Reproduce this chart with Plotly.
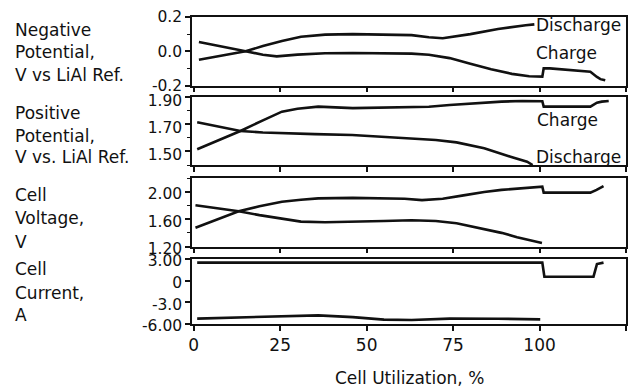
import plotly.graph_objects as go

# ---------------- data ----------------
neg_dis_u = [1.5, 8, 15, 20, 25.5, 31, 38, 46, 55, 63, 68, 72, 80, 88, 96, 98.5]
neg_dis_v = [-0.05, -0.025, 0.0, 0.03, 0.06, 0.085, 0.097, 0.10, 0.098, 0.094, 0.082, 0.076, 0.10, 0.13, 0.152, 0.157]

neg_chg_u = [1.5, 8, 15, 20, 24, 30, 38, 46, 55, 63, 68, 74, 80, 86, 92, 97, 100.8, 101.2, 103, 110, 114.7, 116.6, 117.6, 119]
neg_chg_v = [0.054, 0.03, 0.0, -0.02, -0.03, -0.02, -0.012, -0.01, -0.01, -0.014, -0.02, -0.04, -0.073, -0.105, -0.132, -0.146, -0.148, -0.10, -0.10, -0.11, -0.12, -0.15, -0.163, -0.17]

pos_chg_u = [1, 7, 13.5, 20, 25.5, 30, 36, 46, 55, 63, 68, 74, 82, 89, 95, 99.5, 100.8, 101.2, 108, 114.7, 116.6, 118, 120]
pos_chg_v = [1.516, 1.58, 1.651, 1.73, 1.794, 1.815, 1.831, 1.82, 1.822, 1.826, 1.83, 1.843, 1.858, 1.868, 1.873, 1.873, 1.871, 1.831, 1.831, 1.831, 1.86, 1.868, 1.873]

pos_dis_u = [1, 7, 13.5, 20, 25.5, 35, 45.8, 55, 63, 70, 76, 84, 91.6, 96.4, 98]
pos_dis_v = [1.715, 1.683, 1.651, 1.64, 1.634, 1.628, 1.622, 1.61, 1.597, 1.585, 1.567, 1.523, 1.461, 1.424, 1.40]

vol_chg_u = [0.5, 7, 13, 19, 25.5, 31, 36, 46, 55, 61, 66, 72, 78, 84, 89, 94, 98, 100.8, 101.2, 108, 114.7, 116.5, 118.5]
vol_chg_v = [1.476, 1.6, 1.717, 1.79, 1.855, 1.885, 1.905, 1.913, 1.91, 1.9, 1.88, 1.9, 1.95, 2.00, 2.03, 2.05, 2.07, 2.078, 1.99, 1.99, 1.99, 2.03, 2.086]

vol_dis_u = [0.5, 7, 13, 19, 25.5, 31, 38, 46, 55, 63, 70, 76, 84, 89, 93.5, 97, 100.7]
vol_dis_v = [1.806, 1.765, 1.717, 1.66, 1.61, 1.565, 1.555, 1.56, 1.575, 1.584, 1.575, 1.54, 1.46, 1.40, 1.337, 1.29, 1.25]

cur_chg_u = [1, 25, 50, 75, 100.8, 101.4, 108, 115.6, 116.6, 118.5]
cur_chg_v = [2.5, 2.5, 2.5, 2.5, 2.5, 0.55, 0.55, 0.55, 2.3, 2.5]

cur_dis_u = [1, 15, 25.5, 36, 46, 55, 63, 74, 88, 100.2]
cur_dis_v = [-5.25, -5.1, -4.95, -4.8, -5.05, -5.4, -5.45, -5.25, -5.27, -5.36]

x_ticks = [0, 25, 50, 75, 100, 125]

panel_labels = [
    ["Negative", "Potential,", "V vs LiAl Ref."],
    ["Positive", "Potential,", "V vs. LiAl Ref."],
    ["Cell", "Voltage,", "V"],
    ["Cell", "Current,", "A"],
]
y_tickvals = [[-0.2, 0.0, 0.2], [1.5, 1.7, 1.9], [1.2, 1.6, 2.0], [-6, -3, 0, 3]]
y_ticktext = [["-0.2", "0.0", "0.2"], ["1.50", "1.70", "1.90"], ["1.20", "1.60", "2.00"], ["-6.00", "-3.0", "0", "3.00"]]
y_ranges = [[-0.2, 0.2], [1.40, 1.90], [1.20, 2.20], [-6, 3]]
y_minor = [0.1, 0.1, 0.2, None]

# ---------------- layout geometry (pixels) ----------------
W, H = 640, 388
L, R, T, B = 192, 14, 17, 64
PH = H - T - B
panel_px = [(17, 85.5), (97.3, 165), (178.3, 246.5), (259, 324)]
label_px = [[29.5, 52, 75], [112.5, 136, 157], [195, 218, 242], [269, 292.5, 315]]
label_shift = [0, 3, 2, 2]

def py(p):
    return 1 - (p - T) / PH

FONT = "DejaVu Sans"
INK = "#111111"
FS = 17
TFS = 15.5

fig = go.Figure()
series = [
    (neg_dis_u, neg_dis_v, neg_chg_u, neg_chg_v),
    (pos_dis_u, pos_dis_v, pos_chg_u, pos_chg_v),
    (vol_dis_u, vol_dis_v, vol_chg_u, vol_chg_v),
    (cur_dis_u, cur_dis_v, cur_chg_u, cur_chg_v),
]
for i, (du, dv, cu, cv) in enumerate(series):
    sfx = "" if i == 0 else str(i + 1)
    for uu, vv in ((du, dv), (cu, cv)):
        fig.add_trace(go.Scatter(x=uu, y=vv, mode="lines", xaxis="x" + sfx, yaxis="y" + sfx,
                                 line=dict(color=INK, width=2.6), showlegend=False, hoverinfo="skip"))

layout = dict(width=W, height=H, margin=dict(l=L, r=R, t=T, b=B),
              paper_bgcolor="white", plot_bgcolor="white",
              font=dict(family=FONT, size=FS, color=INK), showlegend=False)
annotations = []
for i in range(4):
    sfx = "" if i == 0 else str(i + 1)
    top, bot = panel_px[i]
    layout["xaxis" + sfx] = dict(domain=[0, 1], anchor="y" + sfx, range=[-0.5, 125],
                                 showline=True, linecolor=INK, linewidth=1.5, mirror=True,
                                 ticks="outside", ticklen=5, tickwidth=1.5, tickcolor=INK,
                                 tickvals=x_ticks, ticktext=[str(t) for t in x_ticks],
                                 showticklabels=(i == 3), showgrid=False, zeroline=False,
                                 tickfont=dict(size=FS), automargin=False)
    yd = dict(domain=[py(bot), py(top)], anchor="x" + sfx, range=y_ranges[i],
              showline=True, linecolor=INK, linewidth=1.5, mirror=True,
              ticks="outside", ticklen=5, tickwidth=1.5, tickcolor=INK,
              tickvals=y_tickvals[i], ticktext=y_ticktext[i], showgrid=False, zeroline=False,
              tickfont=dict(size=TFS), automargin=False, ticklabelshift=label_shift[i])
    if y_minor[i]:
        yd["minor"] = dict(dtick=y_minor[i], ticks="outside", ticklen=3, tickwidth=1.2, tickcolor=INK, showgrid=False)
    layout["yaxis" + sfx] = yd
    for txt, ypx in zip(panel_labels[i], label_px[i]):
        annotations.append(dict(text=txt, xref="paper", yref="paper", x=(12.5 - L) / (W - L - R), y=py(ypx),
                                xanchor="left", yanchor="middle", showarrow=False, font=dict(size=FS)))

# curve labels
annotations += [
    dict(text="Discharge", xref="x", yref="y", x=98.3, y=0.155, xanchor="left", yanchor="middle", showarrow=False, font=dict(size=FS)),
    dict(text="Charge", xref="x", yref="y", x=98.3, y=-0.01, xanchor="left", yanchor="middle", showarrow=False, font=dict(size=FS)),
    dict(text="Charge", xref="x2", yref="y2", x=98.7, y=1.735, xanchor="left", yanchor="middle", showarrow=False, font=dict(size=FS)),
    dict(text="Discharge", xref="x2", yref="y2", x=98.3, y=1.46, xanchor="left", yanchor="middle", showarrow=False, font=dict(size=FS)),
    dict(text="Cell Utilization, %", xref="paper", yref="paper", x=0.5, y=py(378), xanchor="center", yanchor="middle",
         showarrow=False, font=dict(size=FS)),
]
layout["annotations"] = annotations
fig.update_layout(**layout)
fig.write_html("out.html", config={"displayModeBar": False},
               post_script="document.body.style.margin='0px';document.body.style.overflow='hidden';")
